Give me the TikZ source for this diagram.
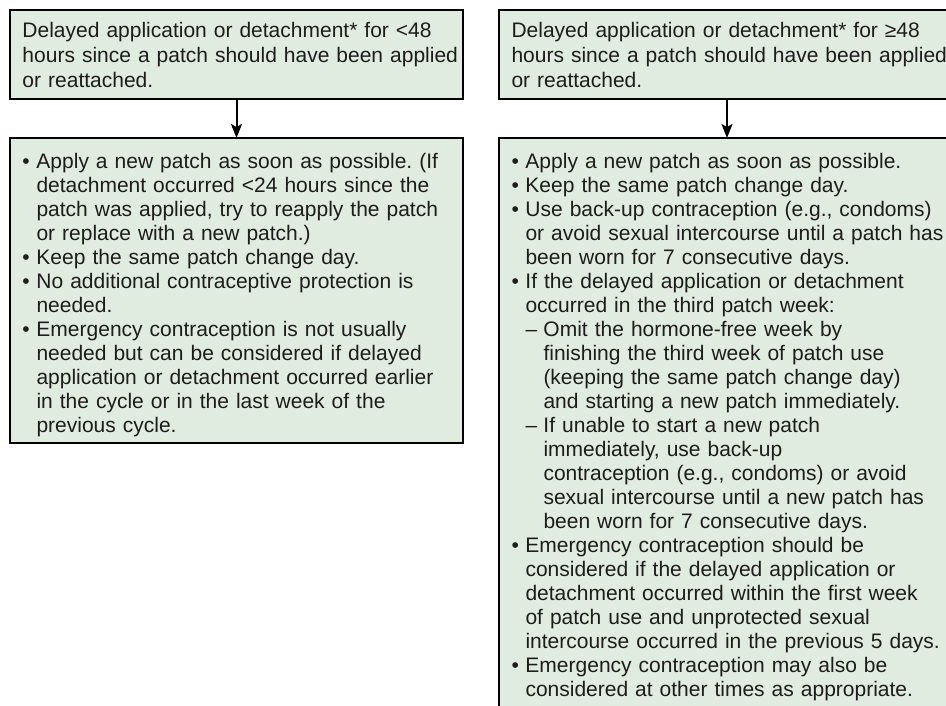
\documentclass[tikz,border=0pt]{standalone}
\usepackage{fontspec}
\setmainfont{Liberation Sans}
\usetikzlibrary{arrows.meta,positioning,shadows}

\definecolor{boxfill}{HTML}{E0ECDF}
\definecolor{ink}{HTML}{1E1C1D}

\newcommand{\bitem}{\makebox[14pt][l]{•}}
\newcommand{\bcont}{\hspace*{14pt}}
\newcommand{\ditem}{\hspace*{14pt}\makebox[18pt][l]{–}}
\newcommand{\dcont}{\hspace*{32pt}}

\begin{document}
\begin{tikzpicture}[
  x=1pt, y=1pt,
  node distance=40pt and 36pt,
  box/.style={rectangle, draw=black, line width=2.1pt, fill=boxfill, outer sep=0pt,
    inner xsep=4pt, inner ysep=0pt, align=left, text=ink,
    font=\fontsize{21}{24}\selectfont, execute at begin node={\leftskip=8.5pt\frenchspacing},
    drop shadow={shadow xshift=1.2pt, shadow yshift=-1.2pt, fill=black!40, opacity=1}},
  head/.style={box, font=\fontsize{21}{25.3}\selectfont, minimum height=89pt},
  arr/.style={-{Stealth[length=14pt,width=11pt,inset=3pt]}, line width=2pt}
]
\useasboundingbox (0,0) rectangle (946,-705);

\node[head, text width=445pt, anchor=north west] (lt) at (10,-10)
  {\rule{0pt}{27pt}Delayed application or detachment* for <48\\
   hours since a patch should have been applied\\
   or reattached.\rule[-11pt]{0pt}{11pt}};
\node[box, text width=445pt, minimum height=305pt, below=39pt of lt] (lb)
  {\rule{0pt}{30pt}\bitem Apply a new patch as soon as possible. (If\\
   \bcont detachment occurred <24 hours since the\\
   \bcont patch was applied, try to reapply the patch\\
   \bcont or replace with a new patch.)\\
   \bitem Keep the same patch change day.\\
   \bitem No additional contraceptive protection is\\
   \bcont needed.\\
   \bitem Emergency contraception is not usually\\
   \bcont needed but can be considered if delayed\\
   \bcont application or detachment occurred earlier\\
   \bcont in the cycle or in the last week of the\\
   \bcont previous cycle.\rule[-11pt]{0pt}{11pt}};

\node[head, text width=448pt, right=of lt] (rt)
  {\rule{0pt}{27pt}Delayed application or detachment* for ≥48\\
   hours since a patch should have been applied\\
   or reattached.\rule[-11pt]{0pt}{11pt}};
\node[box, text width=448pt, minimum height=582pt, below=39pt of rt] (rb)
  {\rule{0pt}{30pt}\bitem Apply a new patch as soon as possible.\\
   \bitem Keep the same patch change day.\\
   \bitem Use back-up contraception (e.g., condoms)\\
   \bcont or avoid sexual intercourse until a patch has\\
   \bcont been worn for 7 consecutive days.\\
   \bitem If the delayed application or detachment\\
   \bcont occurred in the third patch week:\\
   \ditem Omit the hormone-free week by\\
   \dcont finishing the third week of patch use\\
   \dcont (keeping the same patch change day)\\
   \dcont and starting a new patch immediately.\\
   \ditem If unable to start a new patch\\
   \dcont immediately, use back-up\\
   \dcont contraception (e.g., condoms) or avoid\\
   \dcont sexual intercourse until a new patch has\\
   \dcont been worn for 7 consecutive days.\\
   \bitem Emergency contraception should be\\
   \bcont considered if the delayed application or\\
   \bcont detachment occurred within the first week\\
   \bcont of patch use and unprotected sexual\\
   \bcont intercourse occurred in the previous 5 days.\\
   \bitem Emergency contraception may also be\\
   \bcont considered at other times as appropriate.\rule[-24pt]{0pt}{24pt}};

\draw[arr] (lt) -- (lb);
\draw[arr] (rt) -- (rb);
\end{tikzpicture}
\end{document}
